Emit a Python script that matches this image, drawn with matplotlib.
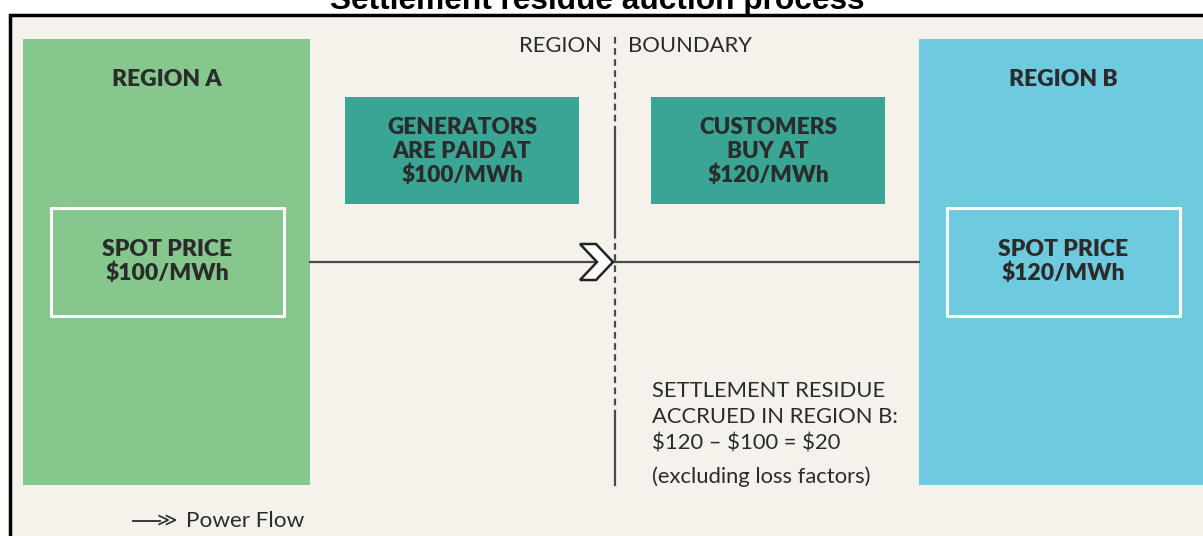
import matplotlib.pyplot as plt
from matplotlib.patches import Rectangle, Polygon

# texts and prices
title = 'Settlement residue auction process'
region_names = ['REGION A', 'REGION B']
spot_prices = [100, 120]
middle_labels = [['GENERATORS', 'ARE PAID AT', '$100/MWh'],
                 ['CUSTOMERS', 'BUY AT', '$120/MWh']]
boundary_words = ['REGION', 'BOUNDARY']
residue_lines = ['SETTLEMENT RESIDUE', 'ACCRUED IN REGION B:',
                 '$120 \u2013 $100 = $20', '(excluding loss factors)']
legend_label = 'Power Flow'

bg = '#f5f2ec'
green = '#86c78d'
blue = '#6ecbdf'
teal = '#3aa594'
ink = '#2b2b2b'
line_c = '#4a4a4a'

fig = plt.figure(figsize=(12.03, 5.36), dpi=100)
ax = fig.add_axes([0, 0, 1, 1])
ax.set_xlim(0, 1203)
ax.set_ylim(536, 0)
ax.axis('off')

# frame (title is clipped at the top like the source scan)
ax.add_patch(Rectangle((10, 15), 1250, 600, facecolor=bg, edgecolor='black', lw=2.5))
ax.text(597, 9, title, ha='center', va='baseline', fontsize=22.8,
        fontweight='bold', family='Liberation Sans', color='black')

# region panels
region_x = [23, 919]
region_col = [green, blue]
for x0, col, name, price in zip(region_x, region_col, region_names, spot_prices):
    ax.add_patch(Rectangle((x0, 39), 287, 446, facecolor=col, edgecolor='none'))
    ax.text(x0 + 144, 79, name, ha='center', va='center', fontsize=16.5,
            fontweight='heavy', family='Lato', color=ink)
    ax.add_patch(Rectangle((x0 + 28, 208), 233, 108, facecolor='none',
                           edgecolor='white', lw=2.2))
    for y, s in zip([249, 273], ['SPOT PRICE', '$%d/MWh' % price]):
        ax.text(x0 + 144, y, s, ha='center', va='center',
                fontsize=16.5, fontweight='heavy', family='Lato', color=ink)

# teal boxes
for x0, lab in zip([345, 651], middle_labels):
    ax.add_patch(Rectangle((x0, 97), 234, 107, facecolor=teal, edgecolor='none'))
    for y, s in zip([127, 151, 175], lab):
        ax.text(x0 + 117, y, s, ha='center', va='center', fontsize=16.2,
                fontweight='heavy', family='Lato', color=ink)

# boundary line: dashed / solid pieces as in the scan
ax.plot([615, 615], [37, 133], color=line_c, lw=1.6, ls=(0, (3, 2)))
ax.plot([615, 615], [133, 232], color=line_c, lw=1.6)
ax.plot([615, 615], [232, 413], color=line_c, lw=1.6, ls=(0, (3, 2)))
ax.plot([615, 615], [413, 485], color=line_c, lw=1.6)
ax.text(602, 46, boundary_words[0], ha='right', va='center', fontsize=15.8,
        family='Lato', color=ink)
ax.text(628, 46, boundary_words[1], ha='left', va='center', fontsize=15.8,
        family='Lato', color=ink)

# power flow line and chevron
ax.plot([310, 919], [262, 262], color=line_c, lw=1.6)
ax.add_patch(Polygon([(580, 244), (596, 244), (613, 262), (596, 280), (580, 280), (597, 262)],
                     closed=True, facecolor='white', edgecolor='#222222', lw=1.8, zorder=5))

# residue note
for y, s in zip([391, 417, 444, 477], residue_lines):
    ax.text(652, y, s, ha='left', va='center', fontsize=15.8,
            family='Lato', color=ink)

# legend
ax.plot([133, 160], [521, 521], color=ink, lw=1.3)
ax.text(167, 521, '\u226b', ha='center', va='center', fontsize=14,
        family='DejaVu Sans', color=ink)
ax.text(186, 521, legend_label, ha='left', va='center', fontsize=16.2,
        family='Lato', color=ink)

fig.savefig('out.png', dpi=100, facecolor='white')
